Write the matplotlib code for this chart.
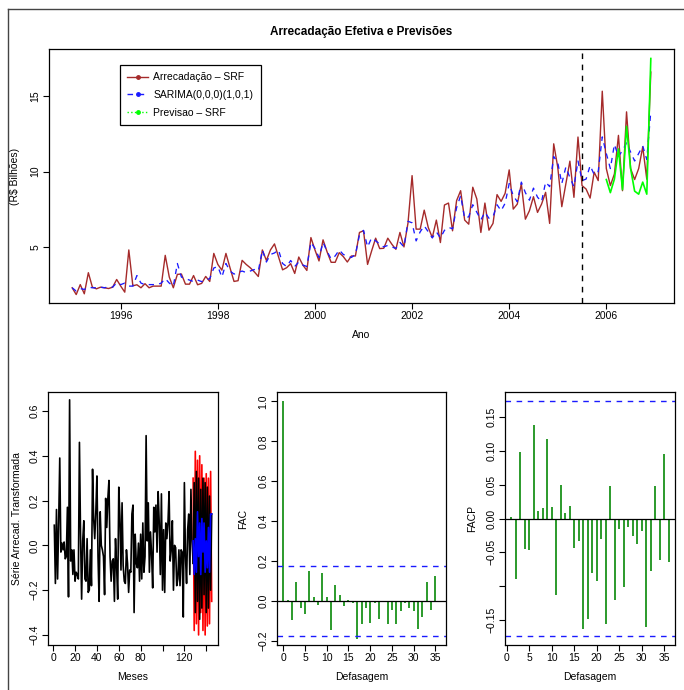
import matplotlib
matplotlib.use("Agg")
import matplotlib.pyplot as plt
from matplotlib.lines import Line2D
import numpy as np

plt.rcParams['font.family'] = ['Liberation Sans', 'DejaVu Sans']

# ---------------- data ----------------
start_year = 1995
arrecadacao = [2.29, 1.84, 2.5, 1.89, 3.29, 2.33, 2.22, 2.33, 2.29, 2.24, 2.33, 2.84,
               2.4, 2.0, 4.8, 2.42, 2.49, 2.29, 2.56, 2.29, 2.4, 2.4, 2.4, 4.44,
               3.0, 2.29, 3.18, 3.2, 2.53, 2.53, 3.1, 2.49, 2.58, 3.04, 2.71, 4.57,
               3.84, 3.46, 4.57, 3.62, 2.71, 2.76, 4.11, 3.84, 3.62, 3.35, 3.04, 4.8,
               4.1, 4.8, 5.2, 4.33, 3.48, 3.62, 3.89, 3.24, 4.33, 3.8, 3.44, 5.62,
               4.8, 4.07, 5.47, 4.67, 3.98, 3.98, 4.62, 4.36, 4.0, 4.4, 4.4, 5.96,
               6.07, 3.84, 4.73, 5.58, 4.89, 4.91, 5.58, 5.18, 4.84, 5.96, 5.0, 6.6,
               9.73, 6.18, 6.18, 7.44, 6.29, 5.62, 6.78, 5.29, 7.78, 7.91, 6.07, 8.07,
               8.73, 6.78, 6.51, 8.96, 8.18, 5.96, 7.91, 6.11, 6.56, 8.47, 8.02, 8.56,
               10.11, 7.51, 7.84, 9.18, 6.84, 7.4, 8.33, 7.29, 7.84, 8.62, 6.56, 11.84,
               10.29, 7.67, 9.18, 10.69, 8.29, 12.29, 9.07, 8.84, 8.24, 9.96, 9.4, 15.33,
               10.2, 9.07, 9.84, 12.4, 8.73, 13.96, 10.2, 9.47, 10.2, 11.64, 9.49, 16.6]
sarima = [2.29, 2.07, 2.24, 2.18, 2.33, 2.29, 2.29, 2.33, 2.29, 2.35, 2.33, 2.62,
          2.5, 2.6, 2.4, 2.4, 3.1, 2.6, 2.5, 2.5, 2.5, 2.5, 2.6, 2.9,
          2.6, 2.4, 3.9, 3.0, 2.9, 2.8, 2.7, 2.8, 2.7, 2.8, 2.9, 3.6,
          3.7, 3.0, 3.9, 3.4, 3.2, 3.3, 3.4, 3.3, 3.4, 3.5, 3.4, 4.8,
          4.0, 4.5, 4.6, 4.8, 3.9, 3.7, 4.1, 3.7, 4.0, 3.8, 3.7, 5.3,
          4.9, 4.3, 5.3, 4.7, 4.2, 4.4, 4.8, 4.5, 4.4, 4.3, 4.5, 5.8,
          6.1, 5.0, 5.6, 5.4, 5.2, 5.0, 5.1, 5.0, 4.9, 5.3, 5.0, 6.7,
          6.6, 5.4, 6.0, 6.4, 6.0, 5.6, 6.0, 5.6, 6.1, 6.3, 6.2, 7.6,
          8.4, 6.9, 7.0, 7.8, 7.3, 6.8, 7.3, 6.9, 7.0, 7.8, 7.4, 7.9,
          9.2, 8.4, 8.0, 9.3, 8.6, 8.1, 8.9, 8.3, 8.0, 9.3, 9.0, 11.0,
          10.6, 9.2, 10.3, 9.6, 9.0, 10.7, 9.4, 9.5, 10.4, 9.8, 10.0, 12.3,
          11.2, 10.2, 11.8, 11.0, 11.4, 11.9, 11.3, 10.7, 11.2, 11.7, 10.8, 14.0]
previsao = [9.47, 8.6, 9.5, 11.5, 8.8, 13.0, 10.2, 8.7, 8.5, 9.3, 8.5, 17.5]
previsao_start = 2006.0
corte = 2005.5

serie_transf = [0.09, -0.17, 0.16, -0.15, 0.10, 0.39, -0.03, 0.01, -0.02, 0.015,
                -0.06, -0.05, 0.17, -0.23, 0.65, -0.07, -0.02, -0.13, -0.02, -0.16,
                -0.12, -0.13, -0.15, 0.46, 0.05, -0.24, 0.02, 0.11, -0.15, -0.16,
                0.03, -0.21, -0.20, -0.02, -0.18, 0.34, 0.12, 0.03, 0.15, 0.31,
                -0.05, -0.25, 0.15, 0.0, -0.02, -0.05, -0.22, 0.21, 0.08, 0.21,
                0.29, -0.05, -0.16, -0.07, -0.06, -0.25, 0.03, -0.09, -0.24, 0.26,
                0.13, -0.11, 0.19, -0.09, -0.16, -0.17, -0.02, -0.08, -0.21, -0.11,
                -0.12, 0.14, 0.18, -0.30, 0.05, -0.08, -0.10, 0.01, -0.16, 0.05,
                -0.15, 0.10, -0.12, -0.05, 0.49, 0.02, 0.19, -0.12, 0.06, -0.04,
                -0.19, 0.17, 0.06, 0.18, -0.03, 0.24, 0.10, -0.13, 0.23, -0.20,
                0.07, -0.21, 0.10, 0.03, 0.10, 0.24, -0.07, -0.02, 0.11, -0.20,
                0.0, -0.01, -0.18, -0.15, -0.02, -0.18, -0.02, -0.03, -0.32, 0.28,
                -0.05, -0.17, 0.07, 0.14, -0.13, 0.25, 0.02, -0.08]
fc_start = 128
fc_red = [0.30, -0.38, 0.42, -0.35, 0.38, -0.40, 0.40, -0.30, 0.36, -0.38,
          0.30, -0.40, 0.32, -0.36, 0.30, -0.35, 0.33, -0.25]
fc_black = [-0.08, 0.28, -0.30, 0.33, -0.25, 0.30, -0.33, 0.25, -0.28, 0.30,
            -0.22, 0.28, -0.30, 0.26, -0.28, 0.22, -0.20, 0.14]
fc_blue = [0.02, -0.13, 0.03, -0.12, 0.15, -0.05, 0.10, -0.13, 0.12, -0.03,
           0.10, -0.12, 0.02, -0.10, 0.08, -0.12, 0.14, 0.14]

fac_lags = list(range(0, 37))
fac_vals = [1.0, 0.005, -0.093, 0.098, -0.035, -0.064, 0.152, 0.02, -0.022, 0.14,
            0.018, -0.145, 0.079, 0.032, -0.024, 0.006, -0.012, -0.19, -0.116, -0.037,
            -0.108, -0.012, -0.088, -0.003, -0.113, -0.044, -0.113, -0.051, -0.008, -0.037,
            -0.051, -0.14, -0.078, 0.093, -0.044, 0.126, 0.002]
facp_lags = list(range(1, 37))
facp_vals = [0.0025, -0.090, 0.098, -0.045, -0.046, 0.138, 0.011, 0.015, 0.117, 0.017,
             -0.113, 0.049, 0.008, 0.019, -0.043, -0.033, -0.164, -0.149, -0.080, -0.093,
             -0.031, -0.156, 0.048, -0.120, -0.016, -0.101, -0.013, -0.026, -0.037, -0.018,
             -0.161, -0.078, 0.048, -0.061, 0.096, -0.065]
conf = 0.1735

# ---------------- figure ----------------
W, H = 684, 690
fig = plt.figure(figsize=(W / 100, H / 100), dpi=100)

def rect(l, t, r, b):
    return [l / W, 1 - b / H, (r - l) / W, (b - t) / H]

FS = 7.5
RED = '#a52a2a'
BLUE = '#1a1aff'
GREEN = '#00ff00'
BARC = '#2b9a2b'

def style(ax):
    for s in ax.spines.values():
        s.set_linewidth(0.9)
    ax.tick_params(direction='out', length=4, width=0.8, labelsize=FS, pad=2)
    for lab in ax.get_yticklabels():
        lab.set_rotation(90)
        lab.set_va('center')

# outer frame
fig.add_artist(Line2D([8 / W, 8 / W], [0, 1 - 9 / H], color='#444444', lw=1.0))
fig.add_artist(Line2D([8 / W, 1], [1 - 9 / H, 1 - 9 / H], color='#444444', lw=1.0))

# ---- top panel
ax = fig.add_axes(rect(49, 49, 674, 303))
t = [start_year + k / 12 for k in range(len(arrecadacao))]
ax.plot(t, arrecadacao, color=RED, lw=1.0)
ax.plot(t, sarima, color=BLUE, lw=0.95, ls=(0, (4, 4)))
tp = [previsao_start + k / 12 for k in range(len(previsao))]
ax.plot(tp, previsao, color=GREEN, lw=1.2)
ax.axvline(corte, color='black', lw=1.0, ls=(0, (4, 4)))
ax.set_xlim(1994.523, 2007.394)
ax.set_ylim(1.28, 18.13)
ax.set_xticks([1996, 1998, 2000, 2002, 2004, 2006])
ax.set_yticks([5, 10, 15])
style(ax)
ax.set_title('Arrecadação Efetiva e Previsões', fontsize=8.5, fontweight='bold', pad=10)
ax.set_xlabel('Ano', fontsize=FS)
ax.xaxis.set_label_coords(0.5, -0.105)
ax.set_ylabel('(R$ Bilhões)', fontsize=FS)
ax.yaxis.set_label_coords(-0.047, 0.5)
handles = [Line2D([], [], color=RED, lw=1.0, marker='o', ms=2.5),
           Line2D([], [], color=BLUE, lw=1.0, ls=(0, (4, 4)), marker='o', ms=2.5),
           Line2D([], [], color=GREEN, lw=1.0, ls=':', marker='o', ms=2.5)]
leg = ax.legend(handles, ['Arrecadação – SRF', 'SARIMA(0,0,0)(1,0,1)', 'Previsao – SRF'],
                loc='upper left', bbox_to_anchor=(0.1136, 0.937), borderaxespad=0,
                fancybox=False, edgecolor='black', framealpha=1, fontsize=FS,
                handlelength=2.0, handletextpad=0.5, labelspacing=0.75, borderpad=0.7)
leg.get_frame().set_linewidth(0.9)

# ---- bottom-left
ax1 = fig.add_axes(rect(48, 392, 218, 645))
m = list(range(1, len(serie_transf) + 1))
ax1.plot(m, serie_transf, color='black', lw=1.2)
mf = list(range(fc_start, fc_start + len(fc_red)))
ax1.plot(mf, fc_red, color='red', lw=1.2)
ax1.plot(mf, fc_black, color='black', lw=1.2)
ax1.plot(mf, fc_blue, color='blue', lw=1.2)
ax1.set_xlim(-4.76, 150.76)
ax1.set_ylim(-0.445, 0.685)
ax1.set_xticks([0, 20, 40, 60, 80, 100, 120, 140])
ax1.set_xticklabels(['0', '20', '40', '60', '80', '', '120', ''])
ax1.set_yticks([-0.4, -0.2, 0.0, 0.2, 0.4, 0.6])
ax1.set_yticklabels(['\u22120.4', '\u22120.2', '0.0', '0.2', '0.4', '0.6'])
style(ax1)
ax1.set_xlabel('Meses', fontsize=FS)
ax1.xaxis.set_label_coords(0.5, -0.105)
ax1.set_ylabel('Série Arrecad. Transformada', fontsize=FS)
ax1.yaxis.set_label_coords(-0.15, 0.5)

# ---- FAC
ax2 = fig.add_axes(rect(277, 392, 446, 645))
ax2.vlines(fac_lags, 0, fac_vals, color=BARC, lw=1.4)
ax2.axhline(0, color='black', lw=0.9)
ax2.axhline(conf, color=BLUE, lw=1.0, ls=(0, (4, 4)))
ax2.axhline(-conf, color=BLUE, lw=1.0, ls=(0, (4, 4)))
ax2.set_xlim(-1.44, 37.44)
ax2.set_ylim(-0.22, 1.047)
ax2.set_xticks([0, 5, 10, 15, 20, 25, 30, 35])
ax2.set_yticks([-0.2, 0.0, 0.2, 0.4, 0.6, 0.8, 1.0])
ax2.set_yticklabels(['\u22120.2', '0.0', '0.2', '0.4', '0.6', '0.8', '1.0'])
style(ax2)
ax2.set_xlabel('Defasagem', fontsize=FS)
ax2.xaxis.set_label_coords(0.5, -0.105)
ax2.set_ylabel('FAC', fontsize=FS)
ax2.yaxis.set_label_coords(-0.17, 0.5)

# ---- FACP
ax3 = fig.add_axes(rect(505, 392, 675, 645))
ax3.vlines(facp_lags, 0, facp_vals, color=BARC, lw=1.4)
ax3.axhline(0, color='black', lw=0.9)
ax3.axhline(conf, color=BLUE, lw=1.0, ls=(0, (4, 4)))
ax3.axhline(-conf, color=BLUE, lw=1.0, ls=(0, (4, 4)))
ax3.set_xlim(-0.4, 37.4)
ax3.set_ylim(-0.187, 0.187)
ax3.set_xticks([0, 5, 10, 15, 20, 25, 30, 35])
ax3.set_yticks([-0.15, -0.10, -0.05, 0.0, 0.05, 0.10, 0.15])
ax3.set_yticklabels(['\u22120.15', '', '\u22120.05', '0.00', '0.05', '0.10', '0.15'])
style(ax3)
ax3.set_xlabel('Defasagem', fontsize=FS)
ax3.xaxis.set_label_coords(0.5, -0.105)
ax3.set_ylabel('FACP', fontsize=FS)
ax3.yaxis.set_label_coords(-0.165, 0.5)

fig.savefig('out.png', dpi=100)
